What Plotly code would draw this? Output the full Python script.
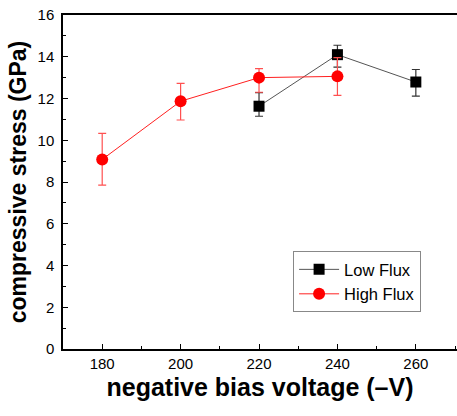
import plotly.graph_objects as go

voltage_low = [220, 240, 260]
stress_low = [11.63, 14.1, 12.79]
err_low_plus = [0.65, 0.45, 0.6]
err_low_minus = [0.48, 0.6, 0.68]

voltage_high = [180, 200, 220, 240]
stress_high = [9.08, 11.87, 13.0, 13.06]
err_high_plus = [1.25, 0.85, 0.43, 0.9]
err_high_minus = [1.23, 0.9, 0.7, 0.91]

x_ticks = [180, 200, 220, 240, 260]
y_ticks = [0, 2, 4, 6, 8, 10, 12, 14, 16]

FONT = "Arial, Liberation Sans, sans-serif"

fig = go.Figure()
fig.add_trace(go.Scatter(
    x=voltage_low,
    y=stress_low,
    name="Low Flux",
    mode="lines+markers",
    line=dict(color="#555555", width=1),
    marker=dict(symbol="square", size=11, color="black"),
    error_y=dict(type="data", array=err_low_plus, arrayminus=err_low_minus,
                 color="#333333", thickness=1.2, width=4),
))
fig.add_trace(go.Scatter(
    x=voltage_high,
    y=stress_high,
    name="High Flux",
    mode="lines+markers",
    line=dict(color="#ff2020", width=1),
    marker=dict(symbol="circle", size=12, color="red"),
    error_y=dict(type="data", array=err_high_plus, arrayminus=err_high_minus,
                 color="#ff5050", thickness=1.2, width=4),
))

fig.update_layout(
    width=457,
    height=416,
    margin=dict(l=63, r=0, t=15, b=67),
    plot_bgcolor="white",
    paper_bgcolor="white",
    font=dict(family=FONT, color="black", size=15),
    legend=dict(
        x=0.584, y=0.293, xanchor="left", yanchor="top",
        bordercolor="#888888", borderwidth=1,
        font=dict(size=16.5), tracegroupgap=0,
        itemwidth=40,
    ),
    xaxis=dict(
        range=[170, 270.5],
        tickvals=x_ticks,
        automargin=False,
        ticks="inside", ticklen=5, tickwidth=1, tickcolor="black",
        minor=dict(dtick=10, ticks="inside", ticklen=3, tickcolor="black", tick0=170),
        showline=True, linecolor="black", linewidth=1.5, mirror=True,
        showgrid=False, zeroline=False,
        title=dict(text="<b>negative bias voltage (\u2013V)</b>", font=dict(size=25), standoff=8),
    ),
    yaxis=dict(
        range=[0, 16],
        tickvals=y_ticks,
        automargin=False,
        ticklabeloverflow="allow",
        ticks="inside", ticklen=5, tickwidth=1, tickcolor="black",
        ticklabelstandoff=4,
        minor=dict(dtick=1, ticks="inside", ticklen=3, tickcolor="black"),
        showline=True, linecolor="black", linewidth=1.5, mirror=False,
        showgrid=False, zeroline=False,
        title=dict(text="<b>compressive stress (GPa)</b>", font=dict(size=23), standoff=5),
    ),
)

# drop the browser's default body margin so the figure sits at the window origin
fig.write_html(
    "out.html",
    config={"displayModeBar": False},
    post_script="document.body.style.margin='0px';",
)
